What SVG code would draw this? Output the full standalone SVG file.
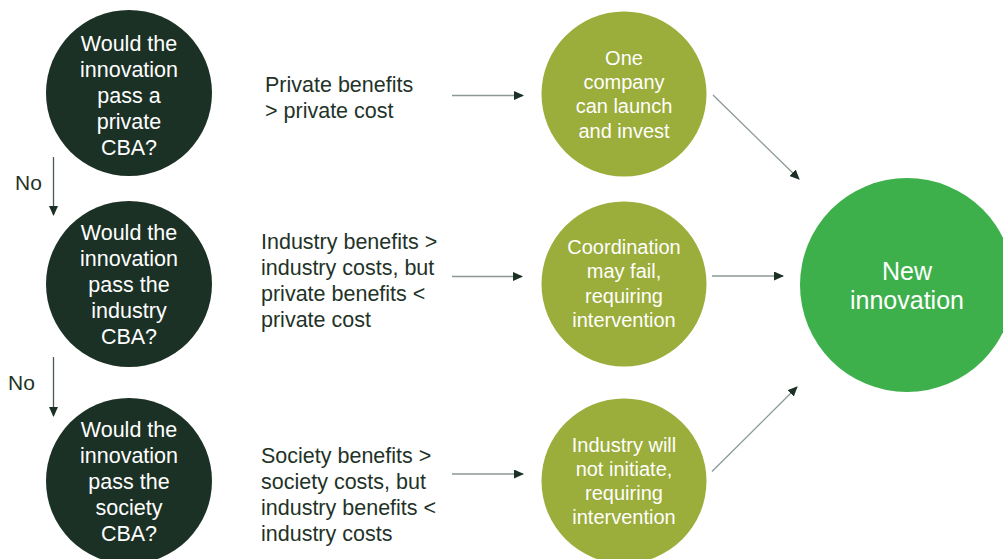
<svg xmlns="http://www.w3.org/2000/svg" width="1003" height="559" viewBox="0 0 1003 559">
<style>
text{font-family:"Liberation Sans",Arial,sans-serif}
.q{fill:#1c3125}
.o{fill:#9bad3a}
.g{fill:#3db04b}
.qt{fill:#ffffff;font-size:21.5px;text-anchor:middle}
.ot{fill:#ffffff;font-size:20px;text-anchor:middle}
.gt{fill:#ffffff;font-size:25px;text-anchor:middle}
.mt{fill:#1f3328;font-size:21.5px}
.no{fill:#1f3328;font-size:21px}
.ln{stroke:#8a9995;stroke-width:1.3;fill:none}
.lv{stroke:#4b5a55;stroke-width:1.3;fill:none}
</style>
<defs>
<marker id="ah" markerWidth="10" markerHeight="9" refX="9" refY="4.5" orient="auto" markerUnits="userSpaceOnUse">
<path d="M0,0 L10,4.5 L0,9 Z" fill="#1c3125"/>
</marker>
</defs>
<g id="q1">
<circle class="q" cx="129" cy="93" r="83"/>
<text class="qt"><tspan x="129" y="51">Would the</tspan><tspan x="129" y="77">innovation</tspan><tspan x="129" y="103">pass a</tspan><tspan x="129" y="129">private</tspan><tspan x="129" y="155">CBA?</tspan></text>
</g>
<g id="q2">
<circle class="q" cx="129" cy="284" r="83"/>
<text class="qt"><tspan x="129" y="240">Would the</tspan><tspan x="129" y="266">innovation</tspan><tspan x="129" y="292">pass the</tspan><tspan x="129" y="318">industry</tspan><tspan x="129" y="344">CBA?</tspan></text>
</g>
<g id="q3">
<circle class="q" cx="129" cy="481" r="83"/>
<text class="qt"><tspan x="129" y="437">Would the</tspan><tspan x="129" y="463">innovation</tspan><tspan x="129" y="489">pass the</tspan><tspan x="129" y="515">society</tspan><tspan x="129" y="541">CBA?</tspan></text>
</g>
<g id="t1">
<text class="mt"><tspan x="265" y="92">Private benefits</tspan><tspan x="265" y="118">&gt; private cost</tspan></text>
</g>
<g id="t2">
<text class="mt"><tspan x="261" y="249">Industry benefits &gt;</tspan><tspan x="261" y="275">industry costs, but</tspan><tspan x="261" y="301">private benefits &lt;</tspan><tspan x="261" y="327">private cost</tspan></text>
</g>
<g id="t3">
<text class="mt"><tspan x="261" y="463">Society benefits &gt;</tspan><tspan x="261" y="489">society costs, but</tspan><tspan x="261" y="515">industry benefits &lt;</tspan><tspan x="261" y="541">industry costs</tspan></text>
</g>
<g id="o1">
<circle class="o" cx="624" cy="94" r="82.5"/>
<text class="ot"><tspan x="624" y="65">One</tspan><tspan x="624" y="89">company</tspan><tspan x="624" y="113">can launch</tspan><tspan x="624" y="138">and invest</tspan></text>
</g>
<g id="o2">
<circle class="o" cx="624" cy="284" r="82.5"/>
<text class="ot"><tspan x="624" y="254">Coordination</tspan><tspan x="624" y="278">may fail,</tspan><tspan x="624" y="303">requiring</tspan><tspan x="624" y="327">intervention</tspan></text>
</g>
<g id="o3">
<circle class="o" cx="624" cy="481" r="82.5"/>
<text class="ot"><tspan x="624" y="452">Industry will</tspan><tspan x="624" y="476">not initiate,</tspan><tspan x="624" y="500">requiring</tspan><tspan x="624" y="524">intervention</tspan></text>
</g>
<g id="n">
<circle class="g" cx="907" cy="285" r="107"/>
<text class="gt"><tspan x="907" y="280">New</tspan><tspan x="907" y="309">innovation</tspan></text>
</g>
<g id="labels">
<text class="no" x="15" y="190">No</text>
<text class="no" x="8" y="390">No</text>
</g>
<g id="connectors">
<line class="lv" x1="53.5" y1="157" x2="53.5" y2="215" marker-end="url(#ah)"/>
<line class="lv" x1="53.5" y1="357" x2="53.5" y2="416" marker-end="url(#ah)"/>
<line class="ln" x1="452" y1="95.5" x2="523" y2="95.5" marker-end="url(#ah)"/>
<line class="ln" x1="452" y1="276.5" x2="522" y2="276.5" marker-end="url(#ah)"/>
<line class="ln" x1="452" y1="474" x2="523" y2="474" marker-end="url(#ah)"/>
<line class="ln" x1="713" y1="95" x2="799" y2="179" marker-end="url(#ah)"/>
<line class="ln" x1="712" y1="276" x2="783" y2="276" marker-end="url(#ah)"/>
<line class="ln" x1="712" y1="471.5" x2="797" y2="387" marker-end="url(#ah)"/>
</g>
</svg>
